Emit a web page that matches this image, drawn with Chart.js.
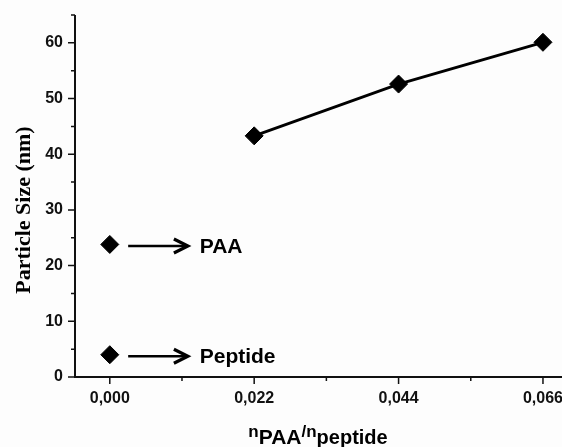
<!DOCTYPE html>
<html>
<head>
<meta charset="utf-8">
<script src="https://cdn.jsdelivr.net/npm/chart.js@4/dist/chart.umd.min.js"></script>
<style>
  html, body { margin: 0; padding: 0; background: #fdfdfd; }
  #wrap { width: 562px; height: 447px; }
</style>
</head>
<body>
<div id="wrap"><canvas id="myChart" width="562" height="447"></canvas></div>
<script>
// data
var lineX = [0.022, 0.044, 0.066];
var lineY = [43.3, 52.6, 60.1];
var refNames = ["PAA", "Peptide"];
var refX = [0, 0];
var refY = [23.8, 4.0];

var xTicks = [0, 0.022, 0.044, 0.066];
var xMinor = [0.011, 0.033, 0.055];
var yTicks = [0, 10, 20, 30, 40, 50, 60];
var yMinor = [5, 15, 25, 35, 45, 55, 65];

var xMin = -0.0053, xMax = 0.0689;
var yMin = 0, yMax = 65;

// arrow from / to (x in data units), label start
var arrowFrom = 0.0028, arrowTo = 0.0119, labelAt = 0.0137;

var axesPlugin = {
  id: "axesPlugin",
  beforeDraw: function (chart) {
    var ctx = chart.ctx;
    ctx.save();
    ctx.fillStyle = "#fdfdfd";
    ctx.fillRect(0, 0, chart.width, chart.height);
    ctx.restore();
  },
  afterDraw: function (chart) {
    var ctx = chart.ctx;
    var xs = chart.scales.x, ys = chart.scales.y;
    var a = chart.chartArea;
    ctx.save();
    ctx.strokeStyle = "#111";
    ctx.lineWidth = 2;
    // axis lines
    ctx.beginPath();
    ctx.moveTo(a.left, a.top);
    ctx.lineTo(a.left, a.bottom);
    ctx.lineTo(a.right, a.bottom);
    ctx.stroke();
    // ticks
    ctx.lineWidth = 1.5;
    ctx.beginPath();
    xTicks.forEach(function (v) { var p = xs.getPixelForValue(v); ctx.moveTo(p, a.bottom); ctx.lineTo(p, a.bottom + 7); });
    xMinor.forEach(function (v) { var p = xs.getPixelForValue(v); ctx.moveTo(p, a.bottom); ctx.lineTo(p, a.bottom + 4); });
    yTicks.forEach(function (v) { var p = ys.getPixelForValue(v); ctx.moveTo(a.left, p); ctx.lineTo(a.left - 7, p); });
    yMinor.forEach(function (v) { var p = ys.getPixelForValue(v); ctx.moveTo(a.left, p); ctx.lineTo(a.left - 4, p); });
    ctx.stroke();

    // arrows + names
    ctx.strokeStyle = "#000";
    ctx.fillStyle = "#000";
    refNames.forEach(function (name, i) {
      var y = ys.getPixelForValue(refY[i]) + 1.5;
      var x0 = xs.getPixelForValue(arrowFrom), x1 = xs.getPixelForValue(arrowTo);
      ctx.lineWidth = 2.6;
      ctx.beginPath();
      ctx.moveTo(x0, y);
      ctx.lineTo(x1 - 1, y);
      ctx.stroke();
      ctx.lineWidth = 3.2;
      ctx.lineJoin = "miter";
      ctx.beginPath();
      ctx.moveTo(x1 - 14, y - 7);
      ctx.lineTo(x1, y);
      ctx.lineTo(x1 - 14, y + 7);
      ctx.stroke();
      ctx.font = "bold 21px 'Liberation Sans'";
      ctx.textAlign = "left";
      ctx.textBaseline = "middle";
      ctx.fillText(name, xs.getPixelForValue(labelAt), y + 1);
    });

    // y title
    ctx.save();
    ctx.translate(24, 210);
    ctx.rotate(-Math.PI / 2);
    ctx.font = "bold 22px 'Liberation Serif'";
    ctx.textAlign = "center";
    ctx.textBaseline = "middle";
    ctx.fillText("Particle Size (nm)", 0, 0);
    ctx.restore();

    // x title: n_PAA / n_peptide
    var parts = [
      { t: "n", f: "bold 17px 'Liberation Sans'", dy: -7 },
      { t: "PAA", f: "bold 21px 'Liberation Sans'", dy: 0 },
      { t: "/", f: "bold 17px 'Liberation Sans'", dy: -7 },
      { t: "n", f: "bold 17px 'Liberation Sans'", dy: -7 },
      { t: "peptide", f: "bold 20px 'Liberation Sans'", dy: 0 }
    ];
    var total = 0;
    parts.forEach(function (p) { ctx.font = p.f; p.w = ctx.measureText(p.t).width; total += p.w; });
    var cx = 318 - total / 2, base = 444;
    ctx.textAlign = "left";
    ctx.textBaseline = "alphabetic";
    parts.forEach(function (p) { ctx.font = p.f; ctx.fillText(p.t, cx, base + p.dy); cx += p.w; });
    ctx.restore();
  }
};

new Chart("myChart", {
  type: "scatter",
  data: {
    datasets: [{
      data: lineX.map(function (x, i) { return { x: x, y: lineY[i] }; }),
      showLine: true,
      borderColor: "#000",
      borderWidth: 2.8,
      backgroundColor: "#000",
      pointStyle: "rectRot",
      pointRadius: 9,
      pointBorderWidth: 1
    }, {
      data: refX.map(function (x, i) { return { x: x, y: refY[i] }; }),
      showLine: false,
      borderColor: "#000",
      backgroundColor: "#000",
      pointStyle: "rectRot",
      pointRadius: 9,
      pointBorderWidth: 1
    }]
  },
  options: {
    responsive: false,
    animation: false,
    layout: { autoPadding: false, padding: { top: 15, right: 0, left: 0, bottom: 0 } },
    plugins: { legend: { display: false }, tooltip: { enabled: false } },
    scales: {
      x: {
        type: "linear",
        min: xMin, max: xMax,
        grid: { display: false, drawTicks: false },
        border: { display: false },
        afterBuildTicks: function (s) { s.ticks = xTicks.map(function (v) { return { value: v }; }); },
        afterFit: function (s) { s.height = 70; s.paddingLeft = 0; s.paddingRight = 0; },
        ticks: {
          padding: 12,
          color: "#111",
          font: { family: "Liberation Sans", weight: "bold", size: 16 },
          maxRotation: 0,
          autoSkip: false,
          callback: function (v) { return v.toFixed(3).replace(".", ","); }
        }
      },
      y: {
        min: yMin, max: yMax,
        grid: { display: false, drawTicks: false },
        border: { display: false },
        afterBuildTicks: function (s) { s.ticks = yTicks.map(function (v) { return { value: v }; }); },
        afterFit: function (s) { s.width = 75; s.paddingTop = 0; s.paddingBottom = 0; },
        ticks: {
          padding: 12,
          color: "#111",
          font: { family: "Liberation Sans", weight: "bold", size: 16 },
          autoSkip: false
        }
      }
    }
  },
  plugins: [axesPlugin]
});
</script>
</body>
</html>
